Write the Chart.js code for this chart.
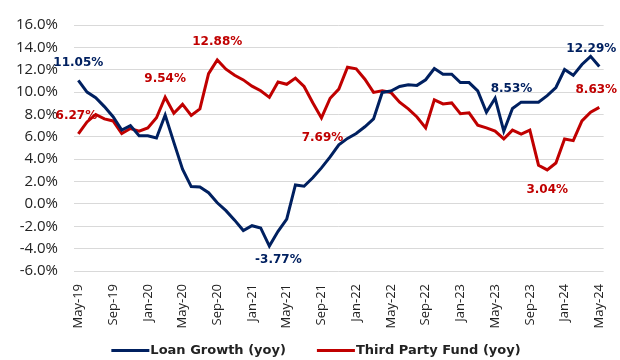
<!DOCTYPE html>
<html>
<head>
<meta charset="utf-8">
<script src="https://cdn.jsdelivr.net/npm/chart.js@4.4.1/dist/chart.umd.min.js"></script>
<style>
  html, body { margin: 0; padding: 0; background: #fff; }
  #wrap { width: 620px; height: 360px; }
</style>
</head>
<body>
<div id="wrap"><canvas id="chart" width="620" height="360"></canvas></div>
<script>
// monthly, May-19 .. May-24
const months = ['May-19','Jun-19','Jul-19','Aug-19','Sep-19','Oct-19','Nov-19','Dec-19',
  'Jan-20','Feb-20','Mar-20','Apr-20','May-20','Jun-20','Jul-20','Aug-20','Sep-20','Oct-20','Nov-20','Dec-20',
  'Jan-21','Feb-21','Mar-21','Apr-21','May-21','Jun-21','Jul-21','Aug-21','Sep-21','Oct-21','Nov-21','Dec-21',
  'Jan-22','Feb-22','Mar-22','Apr-22','May-22','Jun-22','Jul-22','Aug-22','Sep-22','Oct-22','Nov-22','Dec-22',
  'Jan-23','Feb-23','Mar-23','Apr-23','May-23','Jun-23','Jul-23','Aug-23','Sep-23','Oct-23','Nov-23','Dec-23',
  'Jan-24','Feb-24','Mar-24','Apr-24','May-24'];

const loanGrowth = [
  11.05, 10.0, 9.5, 8.7, 7.8, 6.6, 7.0, 6.1, 6.1, 5.9,
  7.95, 5.5, 3.1, 1.55, 1.52, 1.0, 0.1, -0.6, -1.45, -2.38,
  -1.95, -2.15, -3.77, -2.45, -1.35, 1.7, 1.58, 2.34, 3.22, 4.2,
  5.28, 5.86, 6.3, 6.9, 7.6, 9.97, 10.1, 10.5, 10.65, 10.6,
  11.1, 12.1, 11.6, 11.6, 10.85, 10.85, 10.1, 8.2, 9.45, 6.5,
  8.53, 9.1, 9.1, 9.1, 9.68, 10.41, 12.02, 11.5, 12.47, 13.2,
  12.29];

const thirdPartyFund = [
  6.27, 7.33, 8.0, 7.6, 7.42, 6.3, 6.74, 6.5, 6.8, 7.7,
  9.54, 8.1, 8.9, 7.92, 8.5, 11.65, 12.88, 12.05, 11.5, 11.09,
  10.53, 10.12, 9.53, 10.9, 10.7, 11.25, 10.5, 9.05, 7.69, 9.45,
  10.27, 12.23, 12.08, 11.15, 9.97, 10.12, 9.97, 9.1, 8.5, 7.77,
  6.8, 9.3, 8.94, 9.03, 8.06, 8.15, 7.04, 6.8, 6.51, 5.81,
  6.6, 6.25, 6.6, 3.46, 3.04, 3.66, 5.81, 5.66, 7.42, 8.21,
  8.63];

const yTicks = [-6, -4, -2, 0, 2, 4, 6, 8, 10, 12, 14, 16];

const navy = '#002060';
const red = '#C00000';

// value labels: which point, and where the text sits relative to it
const pointLabels = [
  { ds: 0, i: 0,  dx: 0,  dy: -17 },
  { ds: 0, i: 22, dx: 9,  dy: 14 },
  { ds: 0, i: 50, dx: -1, dy: -20 },
  { ds: 0, i: 60, dx: -8, dy: -18 },
  { ds: 1, i: 0,  dx: -2, dy: -18 },
  { ds: 1, i: 10, dx: 0,  dy: -18 },
  { ds: 1, i: 16, dx: 0,  dy: -18 },
  { ds: 1, i: 28, dx: 1,  dy: 20 },
  { ds: 1, i: 54, dx: 0,  dy: 20 },
  { ds: 1, i: 60, dx: -3, dy: -18 }
];

const labelPlugin = {
  id: 'pointLabels',
  afterDatasetsDraw(chart) {
    const ctx = chart.ctx;
    const xs = chart.scales.x, ys = chart.scales.y;
    ctx.save();
    ctx.font = 'bold 12px "DejaVu Sans"';
    ctx.textAlign = 'center';
    ctx.textBaseline = 'middle';
    pointLabels.forEach(p => {
      const ds = chart.data.datasets[p.ds];
      const v = ds.data[p.i];
      ctx.fillStyle = ds.borderColor;
      ctx.fillText(v.toFixed(2) + '%', xs.getPixelForValue(p.i) + p.dx, ys.getPixelForValue(v) + p.dy);
    });
    ctx.restore();
  }
};

// Excel-like legend: line swatch touching its text, row near the bottom edge
const legendPlugin = {
  id: 'bottomLegend',
  afterDraw(chart) {
    const ctx = chart.ctx;
    const lineLen = 38, gap = 31, y = 350.5;
    ctx.save();
    ctx.font = 'bold 13px "DejaVu Sans"';
    ctx.textBaseline = 'middle';
    const items = chart.data.datasets.map(ds => ({
      text: ds.label, color: ds.borderColor, w: lineLen + 1 + ctx.measureText(ds.label).width
    }));
    const total = items.reduce((s, it) => s + it.w, 0) + gap * (items.length - 1);
    let x = 316 - total / 2;
    items.forEach(it => {
      ctx.strokeStyle = it.color;
      ctx.lineWidth = 3;
      ctx.beginPath();
      ctx.moveTo(x, y);
      ctx.lineTo(x + lineLen, y);
      ctx.stroke();
      ctx.fillStyle = '#222';
      ctx.fillText(it.text, x + lineLen + 1, y);
      x += it.w + gap;
    });
    ctx.restore();
  }
};

const config = {
  type: 'line',
  data: {
    labels: months,
    datasets: [{
      label: 'Loan Growth (yoy)',
      data: loanGrowth,
      borderColor: navy,
      backgroundColor: navy,
      borderWidth: 3,
      pointRadius: 0,
      tension: 0
    }, {
      label: 'Third Party Fund (yoy)',
      data: thirdPartyFund,
      borderColor: red,
      backgroundColor: red,
      borderWidth: 3,
      pointRadius: 0,
      tension: 0
    }]
  },
  options: {
    responsive: false,
    animation: false,
    layout: { padding: { left: 4, right: 12, top: 20, bottom: 30 } },
    plugins: {
      legend: { display: false },
      tooltip: { enabled: false }
    },
    scales: {
      x: {
        offset: true,
        grid: { display: false },
        border: { display: false },
        ticks: {
          autoSkip: false,
          maxRotation: 90,
          minRotation: 90,
          color: '#222',
          padding: 5,
          font: { family: '"Open Sans"', size: 13 },
          callback: (v, i) => (i % 4 === 0 ? months[i] : '')
        },
        afterFit: s => { s.height = 59; }
      },
      y: {
        min: -6,
        max: 16,
        afterBuildTicks: s => { s.ticks = yTicks.map(v => ({ value: v })); },
        grid: { color: '#d9d9d9', lineWidth: 1, drawTicks: false },
        border: { display: false },
        ticks: {
          color: '#222',
          padding: 16,
          font: { family: '"Open Sans"', size: 15 },
          callback: v => v.toFixed(1) + '%'
        },
        afterFit: s => { s.width = 70; }
      }
    }
  },
  plugins: [labelPlugin, legendPlugin]
};

new Chart(document.getElementById('chart').getContext('2d'), config);
</script>
</body>
</html>
